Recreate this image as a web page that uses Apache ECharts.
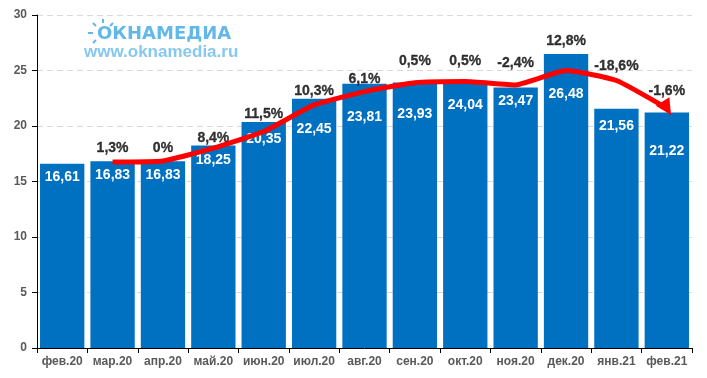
<!DOCTYPE html>
<html><head><meta charset="utf-8">
<script src="https://cdn.jsdelivr.net/npm/echarts@6/dist/echarts.min.js"></script>
<style>html,body{margin:0;padding:0;background:#fff}#c{width:707px;height:378px}</style>
</head><body><div id="c"></div>
<script>
var categories = ['фев.20','мар.20','апр.20','май.20','июн.20','июл.20','авг.20','сен.20','окт.20','ноя.20','дек.20','янв.21','фев.21'];
var values = [16.61,16.83,16.83,18.25,20.35,22.45,23.81,23.93,24.04,23.47,26.48,21.56,21.22];
var valueLabels = ['16,61','16,83','16,83','18,25','20,35','22,45','23,81','23,93','24,04','23,47','26,48','21,56','21,22'];
var changeLabels = ['','1,3%','0%','8,4%','11,5%','10,3%','6,1%','0,5%','0,5%','-2,4%','12,8%','-18,6%','-1,6%'];
var trend = [null,16.76,16.85,18.0,19.5,21.9,23.1,23.9,24.0,23.7,25.0,24.1,21.6];
var yTicks = [0,5,10,15,20,25,30];

// label placement (style only)
var valueLabelDist = [7,7,7,8,10,23,26,25,17,7,33,10,32];
var changeLabelLift = [0,6,6,0,1,1,-2,14,13,17,6,36,14];

var chart = echarts.init(document.getElementById('c'));
var font = 'Arial, "Liberation Sans", sans-serif';

var barData = values.map(function(v,i){
  return {value:v, label:{distance:valueLabelDist[i]}};
});
var pctData = values.map(function(v,i){
  return {value:v, label:{offset:[0,-changeLabelLift[i]]}};
});
var lineData = trend.map(function(v,i){
  if (i === trend.length-1) return {value:v, symbol:'triangle', symbolSize:[16,16], symbolRotate:-148};
  return v;
});

chart.setOption({
  animation:false,
  grid:{left:37,right:15,top:15,bottom:30},
  xAxis:{
    type:'category', data:categories,
    axisLine:{lineStyle:{color:'#000',width:1}},
    axisTick:{show:true,length:5,interval:0,lineStyle:{color:'#000'}},
    axisLabel:{interval:0,color:'#595959',fontWeight:'bold',fontSize:12,fontFamily:font,margin:8}
  },
  yAxis:{
    type:'value', min:yTicks[0], max:yTicks[yTicks.length-1], interval:5,
    axisLine:{show:true,lineStyle:{color:'#000',width:1}},
    axisTick:{show:true,length:5,lineStyle:{color:'#000'}},
    axisLabel:{color:'#595959',fontWeight:'bold',fontSize:12,fontFamily:font,margin:10},
    splitLine:{lineStyle:{color:'#d9d9d9',type:[6,4],width:1}}
  },
  graphic:[
    {type:'text',left:97,top:25,style:{text:'ОКНАМЕДИА',fill:'#63b8ea',font:'bold 18px "DejaVu Sans", sans-serif'}},
    {type:'text',left:84,top:44,style:{text:'www.oknamedia.ru',fill:'#86c8ef',font:'bold 17px Arial, "Liberation Sans", sans-serif'}},
    {type:'line',shape:{x1:88,y1:33,x2:93,y2:33},style:{stroke:'#63b8ea',lineWidth:2}},
    {type:'line',shape:{x1:103,y1:19,x2:103,y2:23},style:{stroke:'#63b8ea',lineWidth:2}},
    {type:'line',shape:{x1:93,y1:23,x2:96,y2:26},style:{stroke:'#63b8ea',lineWidth:2}},
    {type:'line',shape:{x1:93,y1:43,x2:96,y2:40},style:{stroke:'#63b8ea',lineWidth:2}},
    {type:'line',shape:{x1:113,y1:23,x2:110,y2:26},style:{stroke:'#63b8ea',lineWidth:2}}
  ],
  series:[
    {
      type:'bar', data:barData, barCategoryGap:'12%',
      itemStyle:{color:'#0070c0'},
      label:{show:true,position:'insideTop',color:'#fff',fontWeight:'bold',fontSize:14,fontFamily:font,
        formatter:function(p){return valueLabels[p.dataIndex];}}
    },
    {
      type:'scatter', data:pctData, symbolSize:0, silent:true,
      label:{show:true,position:'top',distance:0,color:'#000',fontWeight:700,fontSize:14,fontFamily:font,
        textBorderColor:'#000',textBorderWidth:0.3,
        formatter:function(p){return changeLabels[p.dataIndex];}}
    },
    {
      type:'line', data:lineData, smooth:0.15, symbol:'none', showSymbol:true,
      lineStyle:{color:'#ff0000',width:5}, itemStyle:{color:'#ff0000'}, z:5
    }
  ]
});
</script></body></html>
